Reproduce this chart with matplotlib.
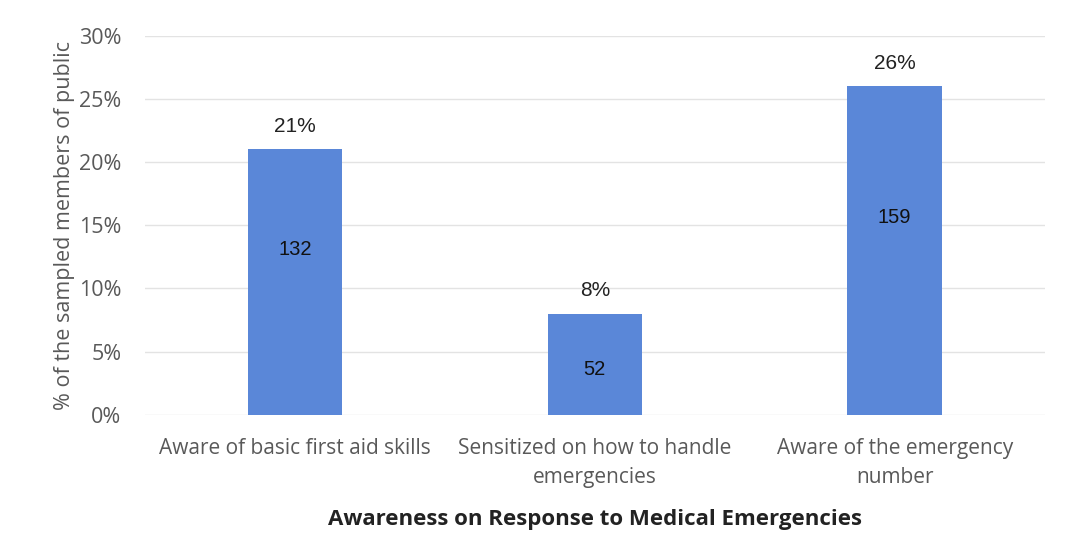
import matplotlib.pyplot as plt
from matplotlib.ticker import PercentFormatter

# Awareness on response to medical emergencies
categories = ['Aware of basic first aid skills',
              'Sensitized on how to handle\nemergencies',
              'Aware of the emergency\nnumber']
percent = [21, 8, 26]
counts = [132, 52, 159]

# where the count labels sit inside the bars (in % units)
count_label_y = [13.1, 3.6, 15.6]

bar_color = '#5A87D8'
tick_color = '#595959'

fig = plt.figure(figsize=(10.66, 5.59), dpi=100)
ax = fig.add_axes([0.136, 0.258, 0.844, 0.678])

x = range(len(categories))
ax.bar(x, percent, width=0.315, color=bar_color, zorder=2)

for i in x:
    ax.text(i, percent[i] + 1.8, f'{percent[i]}%', ha='center', va='center',
            fontsize=15, family='Liberation Sans', color='#222222')
    ax.text(i, count_label_y[i], str(counts[i]), ha='center', va='center',
            fontsize=14.5, family='Liberation Sans', color='#111111')

ax.set_xlim(-0.5, 2.5)
ax.set_ylim(0, 30)
ax.set_yticks(range(0, 31, 5))
ax.yaxis.set_major_formatter(PercentFormatter(decimals=0))
ax.set_xticks(list(x))
ax.set_xticklabels(categories, fontsize=15, family='Open Sans', color=tick_color,
                   linespacing=1.5)
for lab in ax.get_yticklabels():
    lab.set_fontsize(15.5)
    lab.set_family('Open Sans')
    lab.set_color(tick_color)

ax.grid(axis='y', color='#E3E3E3', linewidth=1, zorder=0)
for s in ax.spines.values():
    s.set_visible(False)
ax.tick_params(axis='x', length=0, pad=17)
ax.tick_params(axis='y', length=0, pad=17)

ax.set_ylabel('% of the sampled members of public', fontsize=15.5,
              family='Open Sans', color=tick_color, labelpad=3)
ax.set_xlabel('Awareness on Response to Medical Emergencies', fontsize=16,
              family='Open Sans', fontweight='bold', color='#222222', labelpad=15)

fig.savefig('out.png', dpi=100)
